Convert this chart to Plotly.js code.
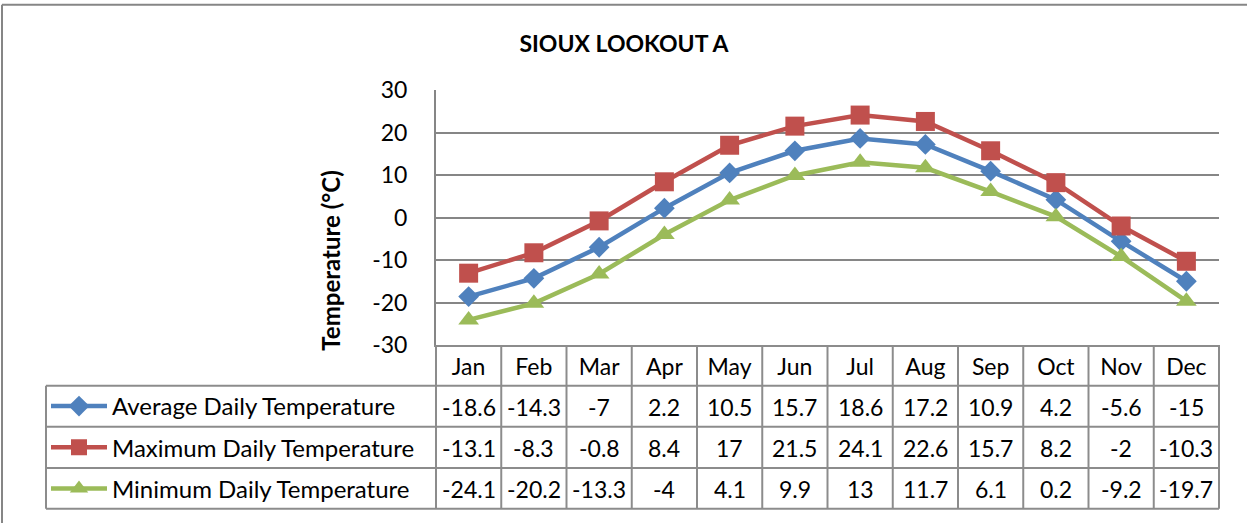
<!DOCTYPE html>
<html>
<head>
<meta charset="utf-8">
<script src="https://cdn.plot.ly/plotly-3.0.1.min.js"></script>
<style>html,body{margin:0;padding:0;background:#fff;}#chart{width:1247px;height:523px;}</style>
</head>
<body>
<div id="chart"></div>
<script>
// ---- data ----
const months = ["Jan","Feb","Mar","Apr","May","Jun","Jul","Aug","Sep","Oct","Nov","Dec"];
const avgTemp = [-18.6,-14.3,-7,2.2,10.5,15.7,18.6,17.2,10.9,4.2,-5.6,-15];
const maxTemp = [-13.1,-8.3,-0.8,8.4,17,21.5,24.1,22.6,15.7,8.2,-2,-10.3];
const minTemp = [-24.1,-20.2,-13.3,-4,4.1,9.9,13,11.7,6.1,0.2,-9.2,-19.7];
const seriesNames = ["Average Daily Temperature","Maximum Daily Temperature","Minimum Daily Temperature"];
const chartTitle = "SIOUX LOOKOUT A";
const yTitle = "Temperature (°C)";
const yTicks = [-30,-20,-10,0,10,20,30];
const yTickText = ["-30","-20","-10","0","10","20","30"];

// ---- layout geometry ----
const W = 1247, H = 523;
const ml = 436, mr = 28, mt = 90, mb = 176;
const pw = W - ml - mr, ph = H - mt - mb;
const px = v => (v - ml) / pw;           // pixel -> paper x
const py = v => (H - mb - v) / ph;       // pixel -> paper y
const FONT = "Lato, 'Open Sans', sans-serif";
const FS = 23;
const GRID = "#868686";
const TABLE = "#8c8c8c";

const colors = ["#4F81BD","#C0504D","#9BBB59"];
const symbols = ["diamond","square","triangle-up"];
const sizes = [16,19,18];
const series = [avgTemp,maxTemp,minTemp];
const legendIds = ["legend","legend2","legend3"];

const traces = series.map((s,i)=>({
  type:"scatter", mode:"lines+markers",
  x: months, y: s, name: seriesNames[i],
  legend: legendIds[i],
  line:{color:colors[i], width:4.5},
  marker:{symbol:symbols[i], size:sizes[i], color:colors[i]},
  hoverinfo:"x+y+name"
}));

// table rows (pixel centres / edges)
const rowEdges = [347, 388, 429.5, 471, 512];
const rowCenters = [409, 450.5, 492];

const shapes = [];
for (let k=1;k<rowEdges.length;k++){
  shapes.push({type:"line", xref:"paper", yref:"paper", x0:px(46), x1:1, y0:py(rowEdges[k]), y1:py(rowEdges[k]), line:{color:TABLE,width:2}});
}
for (let i=0;i<months.length-1;i++){
  shapes.push({type:"line", xref:"x", yref:"paper", x0:i+0.5, x1:i+0.5, y0:py(347), y1:py(512), line:{color:TABLE,width:2}});
}
shapes.push({type:"line", xref:"paper", yref:"paper", x0:0, x1:0, y0:py(347), y1:py(512), line:{color:TABLE,width:2}});
shapes.push({type:"line", xref:"paper", yref:"paper", x0:1, x1:1, y0:py(347), y1:py(512), line:{color:TABLE,width:2}});
shapes.push({type:"line", xref:"paper", yref:"paper", x0:px(46), x1:px(46), y0:py(388), y1:py(512), line:{color:TABLE,width:2}});
// chart outer border (left + top)
shapes.push({type:"line", xref:"paper", yref:"paper", x0:px(2), x1:px(W+5), y0:py(4), y1:py(4), line:{color:GRID,width:2}});
shapes.push({type:"line", xref:"paper", yref:"paper", x0:px(2), x1:px(2), y0:py(4), y1:py(H+5), line:{color:GRID,width:2}});

const annotations = [];
series.forEach((s,r)=>{
  s.forEach((v,i)=>{
    annotations.push({xref:"x", yref:"paper", x:i, y:py(rowCenters[r]), text:String(v),
      showarrow:false, xanchor:"center", yanchor:"middle", font:{family:FONT,size:FS,color:"#000"}});
  });
});
annotations.push({xref:"paper", yref:"paper", x:px(331), y:py(262), text:"<b>"+yTitle+"</b>", textangle:-90,
  showarrow:false, xanchor:"center", yanchor:"middle", font:{family:FONT,size:24,color:"#000"}});

const legendBase = r => ({x:px(46), xanchor:"left", y:py(rowCenters[r]), yanchor:"middle", orientation:"v",
  itemwidth:56, bgcolor:"rgba(0,0,0,0)", borderwidth:0, font:{family:FONT,size:24,color:"#000"},
  itemclick:false, itemdoubleclick:false});

const layout = {
  width:W, height:H,
  margin:{l:ml, r:mr, t:mt, b:mb, pad:0},
  paper_bgcolor:"#fff", plot_bgcolor:"#fff",
  font:{family:FONT, size:FS, color:"#000"},
  title:{text:"<b>"+chartTitle+"</b>", x:624/W, xref:"container", y:1-44/H, yref:"container", xanchor:"center", yanchor:"middle",
    font:{family:FONT, size:23, color:"#000"}},
  xaxis:{type:"category", categoryarray:months, range:[-0.5,11.5], showgrid:false, zeroline:false, automargin:false,
    showline:true, linecolor:TABLE, linewidth:2, ticks:"", ticklabelstandoff:0,
    tickfont:{family:FONT,size:FS,color:"#000"}, fixedrange:true},
  yaxis:{range:[-30,30], tickvals:yTicks, ticktext:yTickText, showgrid:true, gridcolor:GRID, gridwidth:2, zeroline:false, automargin:false,
    showline:true, linecolor:GRID, linewidth:2, ticks:"", ticklabelstandoff:22,
    tickfont:{family:FONT,size:FS,color:"#000"}, fixedrange:true},
  showlegend:true,
  legend:legendBase(0),
  legend2:legendBase(1),
  legend3:legendBase(2),
  shapes:shapes,
  annotations:annotations
};

Plotly.newPlot("chart", traces, layout, {displayModeBar:false});
</script>
</body>
</html>
